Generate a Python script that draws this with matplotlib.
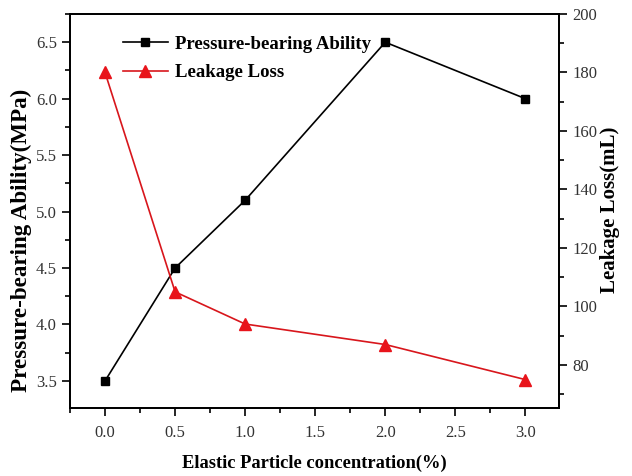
import matplotlib.pyplot as plt
from matplotlib.ticker import MultipleLocator, AutoMinorLocator

plt.rcParams['font.family'] = 'Liberation Serif'

concentration = [0.0, 0.5, 1.0, 2.0, 3.0]
pressure = [3.5, 4.5, 5.1, 6.5, 6.0]
leakage = [180, 105, 94, 87, 75]

fig = plt.figure(figsize=(6.32, 4.76), dpi=100)
ax = fig.add_axes([0.1108, 0.1429, 0.7737, 0.8277])
ax2 = ax.twinx()

l1, = ax.plot(concentration, pressure, color='black', marker='s', markersize=6,
              linewidth=1.2, label='Pressure-bearing Ability')
l2, = ax2.plot(concentration, leakage, color='#d8161c', marker='^', markersize=8,
               markerfacecolor='#e8141b', markeredgecolor='#e8141b',
               linewidth=1.2, label='Leakage Loss')

ax.set_xlim(-0.25, 3.24)
ax.set_ylim(3.26, 6.75)
ax2.set_ylim(65.3, 200)

ax.xaxis.set_major_locator(MultipleLocator(0.5))
ax.xaxis.set_minor_locator(AutoMinorLocator(2))
ax.yaxis.set_major_locator(MultipleLocator(0.5))
ax.yaxis.set_minor_locator(AutoMinorLocator(2))
ax2.yaxis.set_major_locator(MultipleLocator(20))
ax2.yaxis.set_minor_locator(AutoMinorLocator(2))

for a in (ax, ax2):
    a.tick_params(which='major', direction='out', length=6, width=1.2,
                  labelsize=12, labelcolor='#333333')
    a.tick_params(which='minor', direction='out', length=3.6, width=1.2)
    for s in a.spines.values():
        s.set_linewidth(1.3)
ax.tick_params(axis='x', pad=6)

ax.set_xlabel('Elastic Particle concentration(%)', fontsize=13.3, fontweight='bold', labelpad=10)
ax.set_ylabel('Pressure-bearing Ability(MPa)', fontsize=16.6, fontweight='bold')
ax.yaxis.set_label_coords(-0.078, 0.426)
ax2.set_ylabel('Leakage Loss(mL)', fontsize=15, fontweight='bold')
ax2.yaxis.set_label_coords(1.084, 0.503)

ax.legend([l1, l2], [l1.get_label(), l2.get_label()], loc='upper left',
          bbox_to_anchor=(0.108, 0.945), frameon=False, borderpad=0, borderaxespad=0,
          handlelength=2.4, handletextpad=0.4, labelspacing=0.6,
          prop={'weight': 'bold', 'size': 13.5})

fig.savefig('out.png', dpi=100)
